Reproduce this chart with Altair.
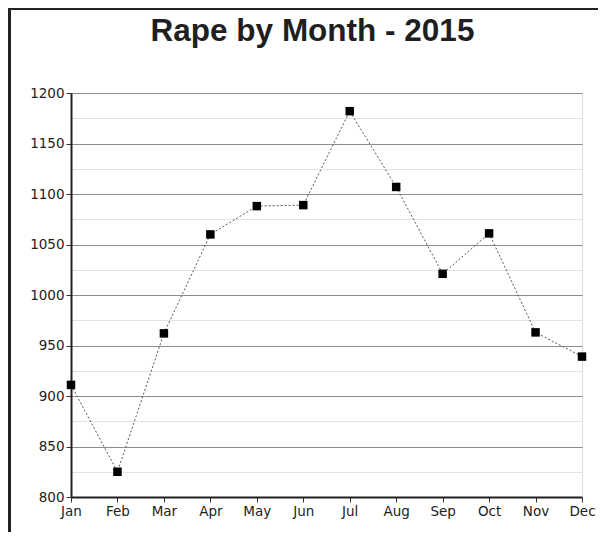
import altair as alt
import pandas as pd

months = ["Jan", "Feb", "Mar", "Apr", "May", "Jun", "Jul", "Aug", "Sep", "Oct", "Nov", "Dec"]
counts = [911, 825, 962, 1060, 1088, 1089, 1182, 1107, 1021, 1061, 963, 939]
y_ticks = list(range(800, 1201, 25))

df = pd.DataFrame({"month": months, "count": counts})

LABEL_FONT = "DejaVu Sans"

x_enc = alt.X(
    "month:N",
    sort=months,
    scale=alt.Scale(type="point", padding=0),
    axis=alt.Axis(
        title=None, labelAngle=0, grid=False,
        tickSize=5, tickColor="#333", tickWidth=1,
        domainColor="#222", domainWidth=2,
        labelFont=LABEL_FONT, labelFontSize=13.5, labelColor="#222",
        labelPadding=2,
    ),
)
y_enc = alt.Y(
    "count:Q",
    scale=alt.Scale(domain=[800, 1200], nice=False, zero=False),
    axis=alt.Axis(
        title=None, values=y_ticks, grid=True, format="d",
        gridColor={"condition": {"test": "datum.value % 50 === 0", "value": "#8c8c8c"}, "value": "#e2e2e2"},
        gridWidth=1.2,
        tickSize=5, tickColor="#333",
        tickOpacity={"condition": {"test": "datum.value % 50 === 0", "value": 1}, "value": 0},
        labelExpr="datum.value % 50 === 0 ? datum.label : ''",
        domainColor="#222", domainWidth=2,
        labelFont=LABEL_FONT, labelFontSize=13.5, labelColor="#222",
        labelPadding=2,
    ),
)

base = alt.Chart(df)
line = base.mark_line(color="#555", strokeWidth=1, strokeDash=[2, 2]).encode(x=x_enc, y=y_enc)
pts = base.mark_point(shape="square", filled=True, color="black", size=72, opacity=1).encode(x=x_enc, y=y_enc)

frame = alt.Chart(pd.DataFrame({"a": [0]})).mark_rect(
    fill="transparent", stroke="#222", strokeWidth=3
).encode(
    x=alt.value(-61.5), x2=alt.value(530), y=alt.value(-84.5), y2=alt.value(443)
)

chart = alt.layer(line, pts, frame).properties(
    width=511,
    height=404,
    title=alt.TitleParams(
        "Rape by Month - 2015", font="Liberation Sans", fontSize=31.5, fontWeight="bold",
        color="#1f1f1f", anchor="middle", dx=-14, offset=-65, baseline="alphabetic",
    ),
    autosize=alt.AutoSizeParams(type="none"),
    padding={"left": 63, "top": 85, "right": 16, "bottom": 35},
).configure_view(stroke=None).configure(background="white")

chart.save("out.html", embed_options={"renderer": "svg", "actions": False})
